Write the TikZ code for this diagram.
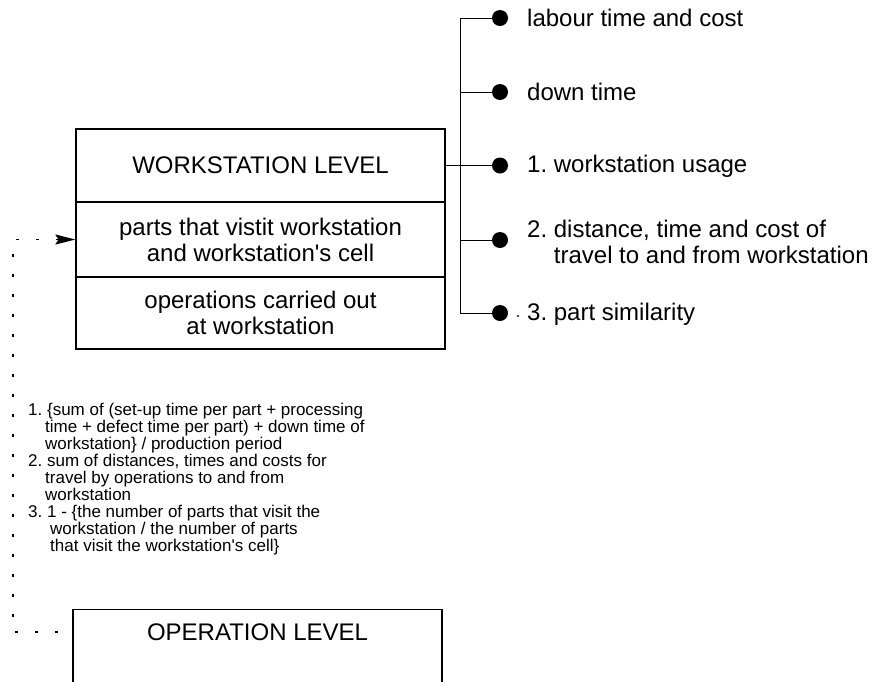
\documentclass[tikz,border=0pt]{standalone}
\usepackage{fontspec}
\setmainfont{Liberation Sans}[Ligatures=TeXOff]
\frenchspacing
\usetikzlibrary{arrows.meta,calc}
\begin{document}
\begin{tikzpicture}[x=1pt,y=-1pt,
  box/.style={draw, line width=1.2pt, minimum width=369pt, inner sep=0pt,
    align=center, font=\fontsize{24}{26}\selectfont},
  bigtext/.style={inner sep=0pt, font=\fontsize{24}{26}\selectfont},
  dotnode/.style={circle, fill=black, minimum size=16pt, inner sep=0pt},
  tag/.style={anchor=west, inner sep=0pt, align=left,
    font=\fontsize{24}{26}\selectfont},
  notes/.style={anchor=north west, inner sep=0pt, align=left,
    font=\fontsize{17}{17}\selectfont},
  wire/.style={line width=1pt},
  trail/.style={line width=1.3pt, dash pattern=on 3pt off 17pt}
]
% page frame
\useasboundingbox (0,0) rectangle (876,681);
\fill[white] (0,0) rectangle (876,681);
\clip (0,0) rectangle (876,681);

% workstation level block
\node[box, minimum height=73pt] (wst) at (260.5,165.5) {WORKSTATION LEVEL};
\node[box, minimum height=75pt] (wsp) at (260.5,239.5)
  {parts that vistit workstation\\and workstation's cell};
\node[box, minimum height=72pt] (wso) at (260.5,313)
  {operations carried out\\at workstation};

% operation level block (runs off the bottom edge)
\node[box, minimum height=100pt, anchor=north] (op) at (257.5,609) {};
\node[bigtext] (opt) at (257.5,632) {OPERATION LEVEL};

% attribute bullets
\node[dotnode] (d1) at (500,18) {};
\node[dotnode] (d2) at (500,92) {};
\node[dotnode] (d3) at (500,165.5) {};
\node[dotnode] (d4) at (500,240) {};
\node[dotnode] (d5) at (500,313) {};

\node[tag] (t1) at (527,18) {labour time and cost};
\node[tag] (t2) at (527,92) {down time};
\node[tag] (t3) at (527,166) {1. workstation usage};
\node[tag] (t4) at (527,242)
  {2. distance, time and cost of\\\hspace*{26.7pt}travel to and from workstation};
\node[tag] (t5) at (527,314) {3. part similarity};
\fill (518,316) circle (1.1pt);

% tree connecting the bullets
\coordinate (spine) at (460,0);
\draw[wire] (d1) -- (d1 -| spine) -- (d5 -| spine) -- (d5);
\draw[wire] (d2) -- (d2 -| spine);
\draw[wire] (d4) -- (d4 -| spine);
\draw[wire] (wst) -- (d3);

% definitions of the measures
\node[notes] (notes) at (28,403)
  {1. \{sum of (set-up time per part + processing\\
   \hspace*{17pt}time + defect time per part) + down time of\\
   \hspace*{17pt}workstation\} / production period\\
   2. sum of distances, times and costs for\\
   \hspace*{17pt}travel by operations to and from\\
   \hspace*{17pt}workstation\\
   3. 1 - \{the number of parts that visit the\\
   \hspace*{22pt}workstation / the number of parts\\
   \hspace*{22pt}that visit the workstation's cell\}};

% dotted feedback from operation level to workstation level
\coordinate (c1) at (13,0);
\draw[trail, {Stealth[length=20pt,width=10pt,inset=3pt]}-]
  (wsp.west) -- (wsp.west -| c1) -- (c1 |- opt) -- (op.west |- opt);
\end{tikzpicture}
\end{document}
